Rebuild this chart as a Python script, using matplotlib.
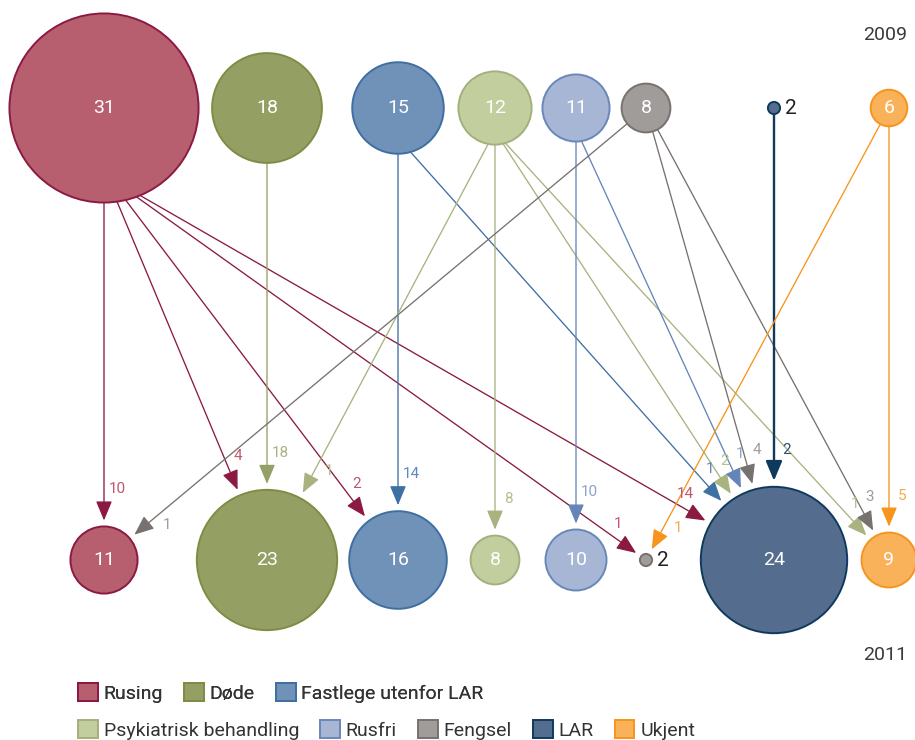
"""Flow of patients between groups, 2009 -> 2011"""

import numpy as np
import matplotlib.pyplot as plt
from matplotlib.patches import Circle, FancyArrowPatch, ArrowStyle, Patch

plt.rcParams['font.family'] = ['Roboto', 'DejaVu Sans']

# groups and counts
groups = ['Rusing', 'Døde', 'Fastlege utenfor LAR', 'Psykiatrisk behandling',
          'Rusfri', 'Fengsel', 'LAR', 'Ukjent']
count_2009 = [31, 18, 15, 12, 11, 8, 2, 6]
count_2011 = [11, 23, 16, 8, 10, 2, 24, 9]

# flows: from group index -> to group index, number of persons
flow_from = [0, 0, 0, 0, 0, 1, 2, 2, 3, 3, 3, 3, 4, 4, 5, 5, 5, 6, 7, 7]
flow_to = [0, 1, 2, 5, 6, 1, 2, 6, 1, 3, 6, 7, 4, 6, 0, 6, 7, 6, 5, 7]
flow_value = [10, 4, 2, 1, 14, 18, 14, 1, 1, 8, 2, 1, 10, 1, 1, 4, 3, 2, 1, 5]

# colours
fill = ['#b75f6f', '#949f64', '#7092b9', '#c2ce9d', '#a7b6d4', '#a09c9a', '#546d8e', '#f9b25a']
edge = ['#8b1a42', '#7e8d43', '#3f6fa2', '#a4b07c', '#6887ba', '#77716f', '#0f3a5d', '#f7941d']
line_col = ['#8b1a42', '#95a066', '#3f70a4', '#a8b380', '#6585b9', '#77716f', '#0f3a5d', '#f7941d']
label_col = ['#c1566e', '#a9b37d', '#5b89bf', '#b5c08f', '#8ea2c9', '#a19d9b', '#2e5073', '#f8a94a']

# layout (pixels)
xpos = [104, 267, 398, 495, 576, 646, 774, 889]
y_top = 108
y_bot = 560
scale = 3.05
gap = 6


def radius(v):
    return v * scale


def draw_node(ax, x, y, v, i):
    r = radius(v)
    ax.add_patch(Circle((x, y), r, facecolor=fill[i], edgecolor=edge[i], lw=1.4, zorder=3))
    if v > 3:
        ax.text(x, y, str(v), color='white', fontsize=14, ha='center', va='center', zorder=4)
    else:
        ax.text(x + r + 5, y, str(v), color='#222222', fontsize=15, ha='left', va='center', zorder=4)


def main():
    fig = plt.figure(figsize=(9.15, 7.40), dpi=100)
    ax = fig.add_axes([0, 0, 1, 1])
    ax.set_xlim(0, 915)
    ax.set_ylim(740, 0)
    ax.axis('off')

    for i in range(len(groups)):
        draw_node(ax, xpos[i], y_top, count_2009[i], i)
        draw_node(ax, xpos[i], y_bot, count_2011[i], i)

    for f, t, v in zip(flow_from, flow_to, flow_value):
        sx, sy = xpos[f], y_top
        tx, ty = xpos[t], y_bot
        rs = radius(count_2009[f])
        rt = radius(count_2011[t])

        # start on the lower part of the source circle
        ang = np.arctan2(tx - sx, ty - sy)
        k = 1.0 if rs < 30 else 0.4
        start = np.array([sx + rs * np.sin(ang * k), sy + rs * np.cos(ang * k)])

        d = np.array([tx, ty]) - start
        u = d / np.hypot(*d)
        tip = np.array([tx, ty]) - u * (rt + gap)

        lw = 1.7 if f == 6 else 0.95
        arrow = FancyArrowPatch(start, tip, arrowstyle=ArrowStyle('-|>', head_length=12, head_width=5),
                                mutation_scale=1, color=line_col[f], lw=lw, shrinkA=0, shrinkB=0, zorder=2)
        ax.add_patch(arrow)

        p = np.array([u[1], -u[0]])
        lab = tip - 31 * u + 13 * p
        ax.text(lab[0], lab[1], str(v), color=label_col[f], fontsize=11, ha='center', va='center')

    ax.text(907, 35, '2009', fontsize=14, color='#3a3a3a', ha='right', va='center')
    ax.text(907, 655, '2011', fontsize=14, color='#3a3a3a', ha='right', va='center')

    handles = [Patch(facecolor=fill[i], edgecolor=edge[i], lw=1.4, label=groups[i]) for i in range(len(groups))]
    common = dict(frameon=False, fontsize=14, handlelength=1.0, handleheight=1.0,
                  handletextpad=0.3, columnspacing=1.1, labelcolor='#333333', borderaxespad=0)
    leg1 = fig.legend(handles=handles[:3], loc='center left', bbox_to_anchor=(0.077, 1 - 693 / 740),
                      ncol=3, **common)
    fig.add_artist(leg1)
    fig.legend(handles=handles[3:], loc='center left', bbox_to_anchor=(0.077, 1 - 730 / 740),
               ncol=5, **common)

    fig.savefig('out.png', dpi=100)


if __name__ == '__main__':
    main()
